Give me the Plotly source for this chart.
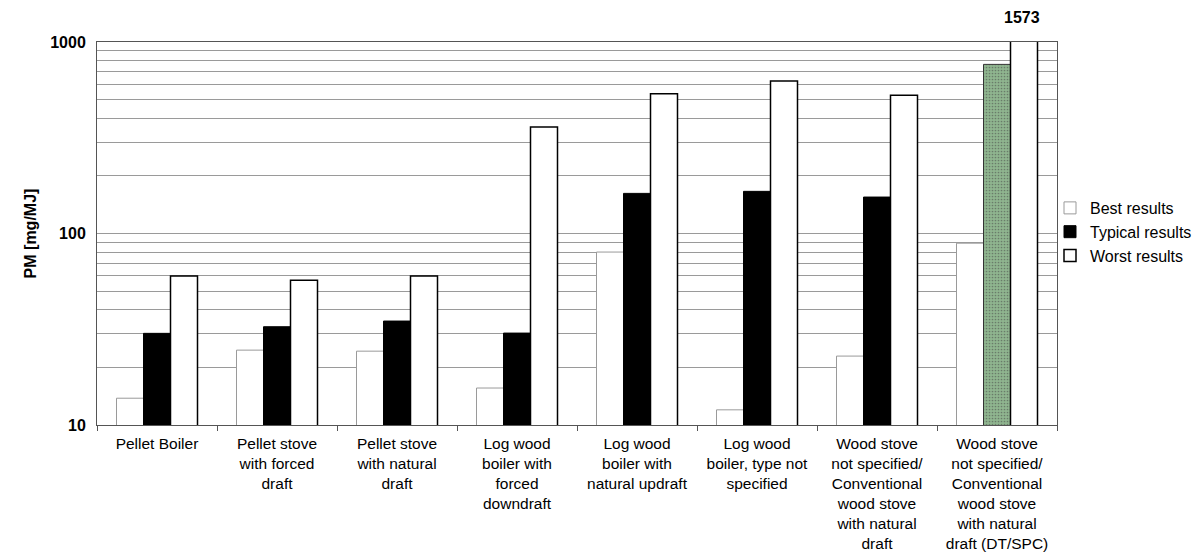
import plotly.graph_objects as go

categories = [
    "Pellet Boiler",
    "Pellet stove<br>with forced<br>draft",
    "Pellet stove<br>with natural<br>draft",
    "Log wood<br>boiler with<br>forced<br>downdraft",
    "Log wood<br>boiler with<br>natural updraft",
    "Log wood<br>boiler, type not<br>specified",
    "Wood stove<br>not specified/<br>Conventional<br>wood stove<br>with natural<br>draft",
    "Wood stove<br>not specified/<br>Conventional<br>wood stove<br>with natural<br>draft (DT/SPC)",
]
best = [13.8, 24.6, 24.3, 15.6, 80, 12.0, 22.9, 89]
typical = [30.1, 32.6, 34.9, 30.2, 162, 166, 155, 764]
worst = [60, 57, 60, 360, 537, 625, 527, 1573]

tick_vals = [10, 20, 30, 40, 50, 60, 70, 80, 90,
             100, 200, 300, 400, 500, 600, 700, 800, 900, 1000]
tick_text = ["10", "", "", "", "", "", "", "", "",
             "100", "", "", "", "", "", "", "", "", "1000"]

FONT = "Liberation Sans, Arial, Helvetica, sans-serif"

typ_colors = ["#000000"] * (len(categories) - 1) + ["#8fb58f"]
typ_lines = ["#000000"] * (len(categories) - 1) + ["#333333"]
typ_pattern = [""] * (len(categories) - 1) + ["."]

fig = go.Figure()
fig.add_trace(go.Bar(
    name="Best results", x=categories, y=best,
    marker=dict(color="#ffffff", line=dict(color="#9a9a9a", width=1)),
))
fig.add_trace(go.Bar(
    name="Typical results", x=categories, y=typical,
    marker=dict(color=typ_colors, line=dict(color=typ_lines, width=1),
                pattern=dict(shape=typ_pattern, fgcolor="#6e946e",
                             size=3, solidity=0.25)),
))
fig.add_trace(go.Bar(
    name="Worst results", x=categories, y=worst,
    marker=dict(color="#ffffff", line=dict(color="#000000", width=1.5)),
))

fig.add_annotation(
    x=categories[-1], y=1, xref="x", yref="paper",
    text="<b>%d</b>" % worst[-1], showarrow=False,
    xshift=25, yshift=14, yanchor="bottom",
    font=dict(family=FONT, size=16, color="#000000"),
)

fig.update_layout(
    width=1200, height=559,
    barmode="group", bargap=0.325, bargroupgap=0,
    plot_bgcolor="#ffffff", paper_bgcolor="#ffffff",
    margin=dict(l=97, r=143, t=42, b=134, autoexpand=False),
    font=dict(family=FONT, size=15, color="#000000"),
    legend=dict(xref="container", yref="container",
                x=0.875, xanchor="left", y=0.585, yanchor="middle",
                font=dict(family=FONT, size=16, color="#000000"),
                itemwidth=30, tracegroupgap=0, bgcolor="rgba(0,0,0,0)"),
    xaxis=dict(
        type="category", showgrid=False, showline=True, linecolor="#555555",
        linewidth=1, mirror=True, ticks="outside", tickson="boundaries",
        ticklen=5, tickcolor="#555555", automargin=False, ticklabelstandoff=4,
        tickfont=dict(family=FONT, size=15.5, color="#000000"),
    ),
    yaxis=dict(
        type="log", range=[1, 3], tickvals=tick_vals, ticktext=tick_text,
        showgrid=True, gridcolor="#9a9a9a", gridwidth=1,
        showline=True, linecolor="#555555", linewidth=1, mirror=True,
        ticks="", zeroline=False, automargin=False, ticklabelstandoff=7,
        tickfont=dict(family=FONT, size=16, color="#000000", weight="bold"),
        title=dict(text="<b>PM [mg/MJ]</b>", standoff=9,
                   font=dict(family=FONT, size=16, color="#000000")),
    ),
)

fig.write_html(
    "out.html",
    config={"displayModeBar": False},
    post_script="document.body.style.margin='0';document.body.style.overflow='hidden';",
)
